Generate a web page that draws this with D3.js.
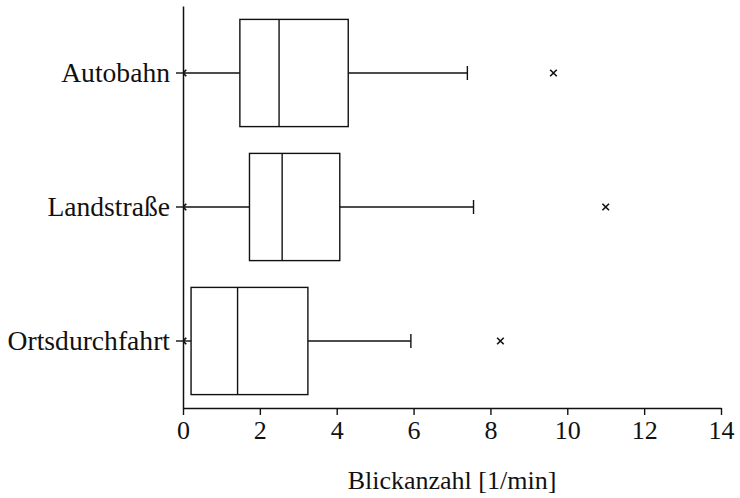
<!DOCTYPE html>
<html>
<head>
<meta charset="utf-8">
<script src="https://cdn.jsdelivr.net/npm/d3@7"></script>
<style>
  html, body { margin: 0; padding: 0; background: #fff; }
  svg text { font-family: "Liberation Serif", "DejaVu Serif", serif; fill: #111; }
</style>
</head>
<body>
<svg id="chart" width="740" height="498"></svg>
<script>
// Blickanzahl je Streckentyp (Boxplot-Kennwerte, 1/min)
const categories = ["Autobahn", "Landstraße", "Ortsdurchfahrt"];
const whiskerLow = [0, 0, 0];
const q1 = [1.48, 1.73, 0.21];
const median = [2.50, 2.58, 1.42];
const q3 = [4.30, 4.08, 3.25];
const whiskerHigh = [7.40, 7.56, 5.93];
const outliers = [[0, 9.64], [0, 11.0], [0, 8.26]];
const xTicks = [0, 2, 4, 6, 8, 10, 12, 14];
const xLabel = "Blickanzahl [1/min]";

const data = categories.map((c, i) => ({
  cat: c, lo: whiskerLow[i], q1: q1[i], med: median[i], q3: q3[i], hi: whiskerHigh[i], out: outliers[i]
}));

const svg = d3.select("#chart");
const plotLeft = 183, plotRight = 721, plotTop = 6, plotBottom = 408;
const ink = "#111";

const x = d3.scaleLinear().domain([0, 14]).range([plotLeft, plotRight]);
const y = d3.scaleBand().domain(categories).range([plotTop, plotBottom]).paddingInner(0.2).paddingOuter(0.1);

svg.append("defs").append("clipPath").attr("id", "plot")
  .append("rect").attr("x", plotLeft).attr("y", 0).attr("width", plotRight - plotLeft + 10).attr("height", plotBottom);

const g = svg.append("g").attr("clip-path", "url(#plot)");
const bw = y.bandwidth();
const capH = 14;

data.forEach(d => {
  const yc = y(d.cat) + bw / 2;
  // Whisker links
  g.append("line").attr("x1", x(d.lo)).attr("x2", x(d.q1)).attr("y1", yc).attr("y2", yc)
    .attr("stroke", ink).attr("stroke-width", 1.4);
  g.append("line").attr("x1", x(d.q3)).attr("x2", x(d.hi)).attr("y1", yc).attr("y2", yc)
    .attr("stroke", ink).attr("stroke-width", 1.4);
  // Caps
  [d.lo, d.hi].forEach(v => {
    g.append("line").attr("x1", x(v)).attr("x2", x(v)).attr("y1", yc - capH / 2).attr("y2", yc + capH / 2)
      .attr("stroke", ink).attr("stroke-width", 1.4);
  });
  // Box
  g.append("rect").attr("x", x(d.q1)).attr("y", y(d.cat)).attr("width", x(d.q3) - x(d.q1)).attr("height", bw)
    .attr("fill", "none").attr("stroke", ink).attr("stroke-width", 1.4);
  // Median
  g.append("line").attr("x1", x(d.med)).attr("x2", x(d.med)).attr("y1", y(d.cat)).attr("y2", y(d.cat) + bw)
    .attr("stroke", ink).attr("stroke-width", 1.4);
  // Outliers
  d.out.forEach(v => {
    const s = 3.3, cx = x(v);
    g.append("path")
      .attr("d", `M${cx - s},${yc - s}L${cx + s},${yc + s}M${cx - s},${yc + s}L${cx + s},${yc - s}`)
      .attr("stroke", ink).attr("stroke-width", 1.6).attr("fill", "none");
  });
});

// Axes
const xAxis = svg.append("g").attr("transform", `translate(0,${plotBottom})`)
  .call(d3.axisBottom(x).tickValues(xTicks).tickSize(7).tickSizeOuter(0).tickPadding(6));
xAxis.selectAll("text").attr("font-size", 26).style("font-family", '"Liberation Serif", serif');

const yAxis = svg.append("g").attr("transform", `translate(${plotLeft},0)`)
  .call(d3.axisLeft(y).tickSize(7).tickSizeOuter(0).tickPadding(6));
yAxis.selectAll("text").attr("font-size", 27.6).style("font-family", '"Liberation Serif", serif');

[xAxis, yAxis].forEach(a => {
  a.select(".domain").attr("stroke", ink).attr("stroke-width", 1.5);
  a.selectAll(".tick line").attr("stroke", ink).attr("stroke-width", 1.4);
  a.selectAll("text").attr("fill", ink);
});

svg.append("text").attr("x", (plotLeft + plotRight) / 2).attr("y", 489)
  .attr("text-anchor", "middle").attr("font-size", 26).text(xLabel);
</script>
</body>
</html>
